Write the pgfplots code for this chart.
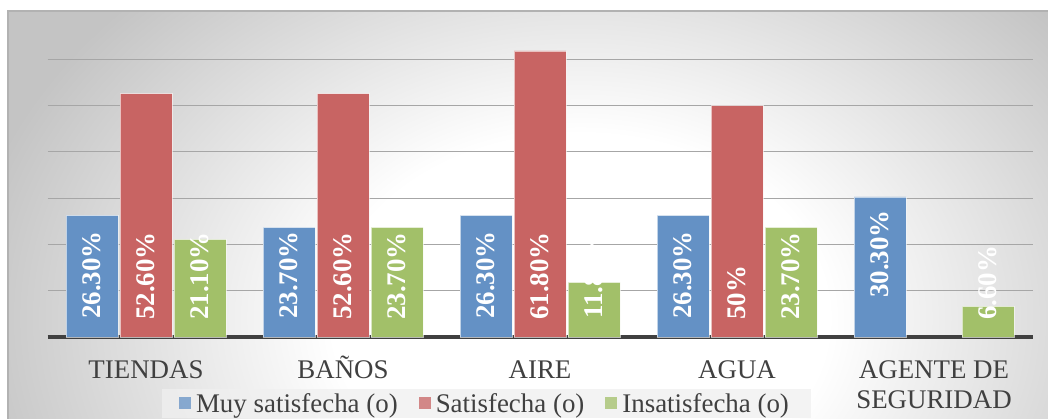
\documentclass[border=0pt]{standalone}
\usepackage{pgfplots}
\pgfplotsset{compat=1.18}
\usepackage{fontspec}
\setmainfont{Liberation Serif}
\definecolor{cBlue}{RGB}{100,145,197}
\definecolor{cRed}{RGB}{200,100,99}
\definecolor{cGreen}{RGB}{162,192,105}
\definecolor{txt}{RGB}{64,64,64}
\definecolor{bgGray}{RGB}{196,196,196}
\pgfdeclareradialshading{bgshade}{\pgfpoint{0bp}{0bp}}{color(0bp)=(white); color(10bp)=(white); color(25bp)=(bgGray); color(50bp)=(bgGray)}
\begin{document}
\begin{tikzpicture}[x=1bp,y=1bp]
\begin{scope}
\clip (8,-10) rectangle (1070,407);
\fill[bgGray] (8,-10) rectangle (1070,407);
\shade[shading=bgshade] (580,100) ellipse [x radius=620, y radius=460];
\end{scope}
\draw[black!30, line width=1.5bp] (8,-10) -- (8,407) -- (1070,407);
\begin{axis}[
  at={(47.5bp,81bp)}, anchor=south west,
  width=985bp, height=324bp, scale only axis,
  xmin=-0.5, xmax=4.5, ymin=0, ymax=70,
  axis x line*=bottom, axis y line*=left,
  x axis line style={line width=4bp, color=black!75, -},
  y axis line style={draw=none},
  ymajorgrids, ytick={10,20,...,60}, yticklabels={},
  grid style={black!35, line width=1.2bp},
  xtick={0,1,2,3,4},
  xticklabels={TIENDAS, BA\smash{Ñ}OS, AIRE, AGUA, {AGENTE DE\\SEGURIDAD}},
  major tick length=0pt,
  xticklabel style={font=\fontsize{27}{30}\selectfont, text=txt, align=center, yshift=-20bp},
  ybar=0pt, bar width=52bp,
  clip=false,
  visualization depends on={\thisrow{y} \as \rawy},
  visualization depends on={\thisrow{off} \as \off},
  nodes near coords={\bfseries\fontsize{27}{27}\selectfont\pgfplotspointmeta},
  every node near coord/.append style={shift={(axis direction cs:0,-\rawy)}, rotate=90, anchor=west, xshift=\off bp, inner sep=0pt, text=white},
  legend style={at={(0.4457,-0.205)}, anchor=center, legend columns=3, draw=none,
    fill=black!6, fill opacity=0.75, text opacity=1, font=\fontsize{27}{30}\selectfont, text=txt,
    inner xsep=17bp, inner ysep=4bp,
    /tikz/every even column/.append style={column sep=16bp},
    nodes={inner xsep=5bp, inner ysep=0bp}},
  legend image code/.code={\fill[#1, draw=none] (0bp,-6bp) rectangle (12bp,6bp);},
]
\addplot[fill=cBlue, draw=white, draw opacity=0.6, bar shift=-54bp, point meta=explicit symbolic]
  table[x=x, y=y, meta=lab] {
x y lab off
0 26.3 26.30\% 18
1 23.7 23.70\% 18
2 26.3 26.30\% 18
3 26.3 26.30\% 18
4 30.3 30.30\% 39
};
\addplot[fill=cRed, draw=white, draw opacity=0.6, bar shift=0bp, point meta=explicit symbolic]
  table[x=x, y=y, meta=lab] {
x y lab off
0 52.6 52.60\% 17
1 52.6 52.60\% 17
2 61.8 61.80\% 17
3 50.0 50\% 17
};
\addplot[fill=cGreen, draw=white, draw opacity=0.6, bar shift=54bp, point meta=explicit symbolic]
  table[x=x, y=y, meta=lab] {
x y lab off
0 21.1 21.10\% 17
1 23.7 23.70\% 17
2 11.8 11.80\% 18
3 23.7 23.70\% 17
4 6.6 6.60\% 17
};
\legend{Muy satisfecha (o), Satisfecha (o), Insatisfecha (o)}
\end{axis}
\pgfresetboundingbox
\path[use as bounding box] (0,0) rectangle (1048,418);
\end{tikzpicture}
\end{document}
